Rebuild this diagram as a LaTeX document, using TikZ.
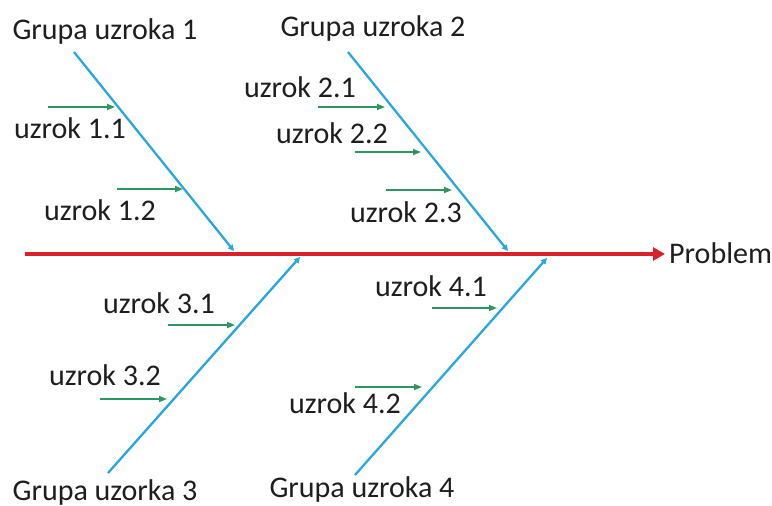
\documentclass[tikz,border=0pt]{standalone}
\usepackage{fontspec}
\setmainfont{Carlito}
\usetikzlibrary{arrows.meta}

\definecolor{spinered}{RGB}{218,32,40}
\definecolor{boneblue}{RGB}{40,168,220}
\definecolor{causegreen}{RGB}{46,150,96}
\definecolor{textgray}{RGB}{30,30,30}

\begin{document}
\begin{tikzpicture}[x=1pt,y=-1pt,
  lbl/.style={anchor=base,inner sep=0pt,text=textgray,font=\fontsize{30}{36}\selectfont},
  spine/.style={spinered,line width=3.8pt,-{Triangle[length=12pt,width=13pt]}},
  bone/.style={boneblue,line width=2.3pt,-{Triangle[length=6pt,width=6pt]}},
  cause/.style={causegreen,line width=1.6pt,-{Triangle[length=8pt,width=6pt]}}]

\useasboundingbox (0,0) rectangle (772,506);

% Spine
\coordinate (S) at (25,254);
\node[lbl,anchor=base west] (prob) at (669,263) {Problem};
\draw[spine,shorten >=4pt] (S) -- (S -| prob.west);

% Bones: tail T, head H on the spine
\coordinate (T1) at (74,52);   \coordinate (H1) at (234,251);
\coordinate (T2) at (348,52);  \coordinate (H2) at (508,251);
\coordinate (T3) at (108,473); \coordinate (H3) at (300,257);
\coordinate (T4) at (355,475); \coordinate (H4) at (547,258);
\draw[bone] (T1) -- (H1);
\draw[bone] (T2) -- (H2);
\draw[bone] (T3) -- (H3);
\draw[bone] (T4) -- (H4);

% Group labels
\node[lbl] (g1) at (105,39) {Grupa uzroka 1};
\node[lbl] (g2) at (373,36) {Grupa uzroka 2};
\node[lbl] (g3) at (105,500) {Grupa uzorka 3};
\node[lbl] (g4) at (362,497) {Grupa uzroka 4};

% Causes
\coordinate (A11) at (48,107);  \coordinate (B11) at (115,107);
\coordinate (A12) at (117,189); \coordinate (B12) at (183,189);
\coordinate (A21) at (318,107); \coordinate (B21) at (385,107);
\coordinate (A22) at (355,152); \coordinate (B22) at (421,152);
\coordinate (A23) at (386,190); \coordinate (B23) at (452,190);
\coordinate (A31) at (168,325); \coordinate (B31) at (235,325);
\coordinate (A32) at (100,399); \coordinate (B32) at (167,399);
\coordinate (A41) at (432,308); \coordinate (B41) at (497,308);
\coordinate (A42) at (355,387); \coordinate (B42) at (422,387);
\foreach \c in {11,12,21,22,23,31,32,41,42}
  \draw[cause] (A\c) -- (B\c);

\node[lbl] (u11) at (70,138)  {uzrok 1.1};
\node[lbl] (u12) at (100,220) {uzrok 1.2};
\node[lbl] (u21) at (300,97)  {uzrok 2.1};
\node[lbl] (u22) at (332,143) {uzrok 2.2};
\node[lbl] (u23) at (406,222) {uzrok 2.3};
\node[lbl] (u31) at (159,313) {uzrok 3.1};
\node[lbl] (u32) at (105,385) {uzrok 3.2};
\node[lbl] (u41) at (431,296) {uzrok 4.1};
\node[lbl] (u42) at (345,413) {uzrok 4.2};

\end{tikzpicture}
\end{document}
